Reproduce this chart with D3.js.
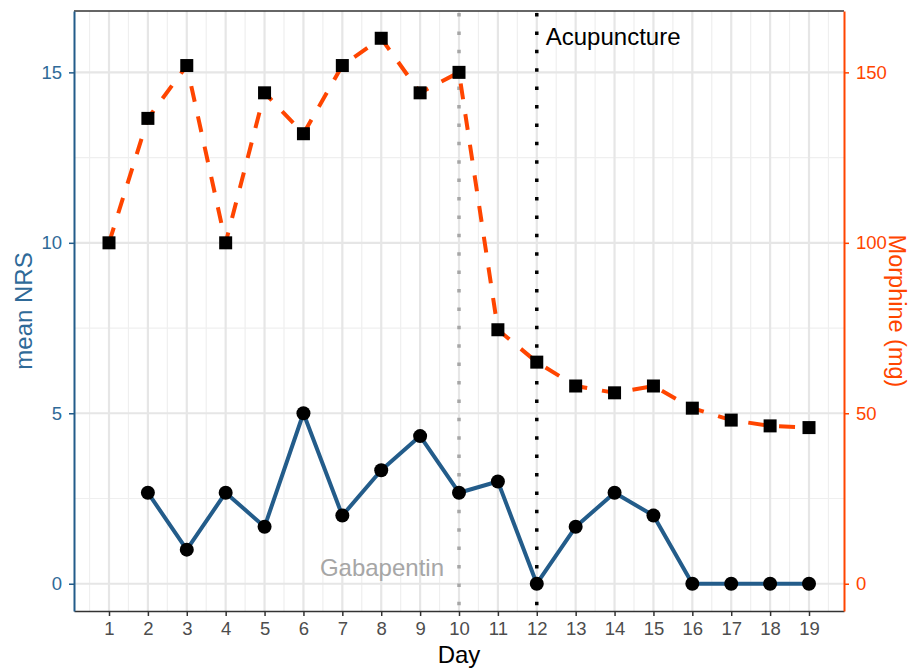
<!DOCTYPE html>
<html>
<head>
<meta charset="utf-8">
<script src="https://cdn.jsdelivr.net/npm/d3@7"></script>
<style>
  body { margin: 0; background: #fff; }
  text { font-family: "Liberation Sans", Arial, sans-serif; }
</style>
</head>
<body>
<script>
// days on the x axis
var days = [1, 2, 3, 4, 5, 6, 7, 8, 9, 10, 11, 12, 13, 14, 15, 16, 17, 18, 19];
// mean NRS per day (no value on day 1)
var nrs = [null, 2.67, 1, 2.67, 1.67, 5, 2, 3.33, 4.33, 2.67, 3, 0, 1.67, 2.67, 2, 0, 0, 0, 0];
// morphine dose (mg) per day
var morphine = [100, 136.5, 152, 100, 144, 132, 152, 160, 144, 150, 74.5, 65, 58, 56, 58, 51.5, 48, 46.3, 45.8];
// events marked with vertical lines
var events = [{day: 10, label: "Gabapentin"}, {day: 12, label: "Acupuncture"}];
var leftTicks = [0, 5, 10, 15];
var rightTicks = [0, 50, 100, 150];

var blue = "#235c8a", orange = "#ff4500", blueText = "#2f6a98";
var W = 912, H = 670;
var margin = {top: 11, right: 68, bottom: 59, left: 74};
var width = W - margin.left - margin.right;
var height = H - margin.top - margin.bottom;

var svg = d3.select("body").append("svg")
    .attr("width", W).attr("height", H);
var g = svg.append("g")
    .attr("transform", "translate(" + margin.left + "," + margin.top + ")");

// ggplot style 5% expansion
var x = d3.scaleLinear().domain([0.1, 19.9]).range([0, width]);
var y = d3.scaleLinear().domain([-0.8, 16.8]).range([height, 0]);
var y2 = d3.scaleLinear().domain([-8, 168]).range([height, 0]);

// grid: minor first then major
var minorX = d3.range(0.5, 20, 1);
var minorY = [2.5, 7.5, 12.5];
g.selectAll(".minx").data(minorX).enter().append("line")
    .attr("x1", d => x(d)).attr("x2", d => x(d)).attr("y1", 0).attr("y2", height)
    .attr("stroke", "#efefef").attr("stroke-width", 1.2);
g.selectAll(".miny").data(minorY).enter().append("line")
    .attr("y1", d => y(d)).attr("y2", d => y(d)).attr("x1", 0).attr("x2", width)
    .attr("stroke", "#efefef").attr("stroke-width", 1.2);
g.selectAll(".majx").data(days).enter().append("line")
    .attr("x1", d => x(d)).attr("x2", d => x(d)).attr("y1", 0).attr("y2", height)
    .attr("stroke", "#e6e6e6").attr("stroke-width", 2.2);
g.selectAll(".majy").data(leftTicks).enter().append("line")
    .attr("y1", d => y(d)).attr("y2", d => y(d)).attr("x1", 0).attr("x2", width)
    .attr("stroke", "#e6e6e6").attr("stroke-width", 2.2);

// event lines
g.selectAll(".ev").data(events).enter().append("line")
    .attr("x1", d => x(d.day)).attr("x2", d => x(d.day)).attr("y1", 2).attr("y2", height)
    .attr("stroke", (d, i) => i === 0 ? "#a6a6a6" : "#000")
    .attr("stroke-width", 3.5)
    .attr("stroke-dasharray", "3.5,14.9");

// morphine dashed line
var mData = days.map((d, i) => ({day: d, v: morphine[i]}));
g.append("path").datum(mData)
    .attr("fill", "none").attr("stroke", orange).attr("stroke-width", 4)
    .attr("stroke-dasharray", "16,15")
    .attr("d", d3.line().x(d => x(d.day)).y(d => y2(d.v)));

// nrs solid line
var nData = days.map((d, i) => ({day: d, v: nrs[i]})).filter(d => d.v !== null);
g.append("path").datum(nData)
    .attr("fill", "none").attr("stroke", blue).attr("stroke-width", 4)
    .attr("stroke-linejoin", "round")
    .attr("d", d3.line().x(d => x(d.day)).y(d => y(d.v)));

g.selectAll(".pt").data(nData).enter().append("circle")
    .attr("cx", d => x(d.day)).attr("cy", d => y(d.v)).attr("r", 7)
    .attr("fill", "#000");
g.selectAll(".sq").data(mData).enter().append("rect")
    .attr("x", d => x(d.day) - 6.5).attr("y", d => y2(d.v) - 6.5)
    .attr("width", 13).attr("height", 13).attr("fill", "#000");

// event labels
g.append("text").attr("x", x(10) - 15).attr("y", y(0) - 8)
    .attr("text-anchor", "end").attr("font-size", 24).attr("fill", "#a6a6a6")
    .text(events[0].label);
g.append("text").attr("x", x(12) + 9).attr("y", 34)
    .attr("font-size", 24).attr("fill", "#000")
    .text(events[1].label);

// panel border top
g.append("line").attr("x1", 0).attr("x2", width).attr("y1", 0).attr("y2", 0)
    .attr("stroke", "#333").attr("stroke-width", 1.5);

// axes
var xAxis = g.append("g").attr("transform", "translate(0," + height + ")")
    .call(d3.axisBottom(x).tickValues(days).tickFormat(d3.format("d"))
        .tickSize(5).tickSizeOuter(0).tickPadding(6));
xAxis.select(".domain").attr("stroke", "#333").attr("stroke-width", 1.5);
xAxis.selectAll(".tick line").attr("stroke", "#333").attr("stroke-width", 1.5);
xAxis.selectAll("text").attr("font-size", 18.5).attr("fill", "#4d4d4d")
    .attr("font-family", "Liberation Sans, Arial, sans-serif");

var yAxis = g.append("g")
    .call(d3.axisLeft(y).tickValues(leftTicks).tickSize(5).tickSizeOuter(0).tickPadding(7));
yAxis.select(".domain").attr("stroke", blue).attr("stroke-width", 2);
yAxis.selectAll(".tick line").attr("stroke", blue).attr("stroke-width", 1.5);
yAxis.selectAll("text").attr("font-size", 18.5).attr("fill", blueText)
    .attr("font-family", "Liberation Sans, Arial, sans-serif");

var y2Axis = g.append("g").attr("transform", "translate(" + width + ",0)")
    .call(d3.axisRight(y2).tickValues(rightTicks).tickSize(5).tickSizeOuter(0).tickPadding(7));
y2Axis.select(".domain").attr("stroke", orange).attr("stroke-width", 2);
y2Axis.selectAll(".tick line").attr("stroke", orange).attr("stroke-width", 1.5);
y2Axis.selectAll("text").attr("font-size", 18.5).attr("fill", orange)
    .attr("font-family", "Liberation Sans, Arial, sans-serif");

// axis titles
svg.append("text").attr("x", margin.left + width / 2).attr("y", H - 7)
    .attr("text-anchor", "middle").attr("font-size", 24).attr("fill", "#000").text("Day");
svg.append("text")
    .attr("transform", "translate(32," + (margin.top + height / 2) + ") rotate(-90)")
    .attr("text-anchor", "middle").attr("font-size", 24).attr("fill", blueText).text("mean NRS");
svg.append("text")
    .attr("transform", "translate(889," + (margin.top + height / 2) + ") rotate(90)")
    .attr("text-anchor", "middle").attr("font-size", 23.5).attr("fill", orange).text("Morphine (mg)");
</script>
</body>
</html>
